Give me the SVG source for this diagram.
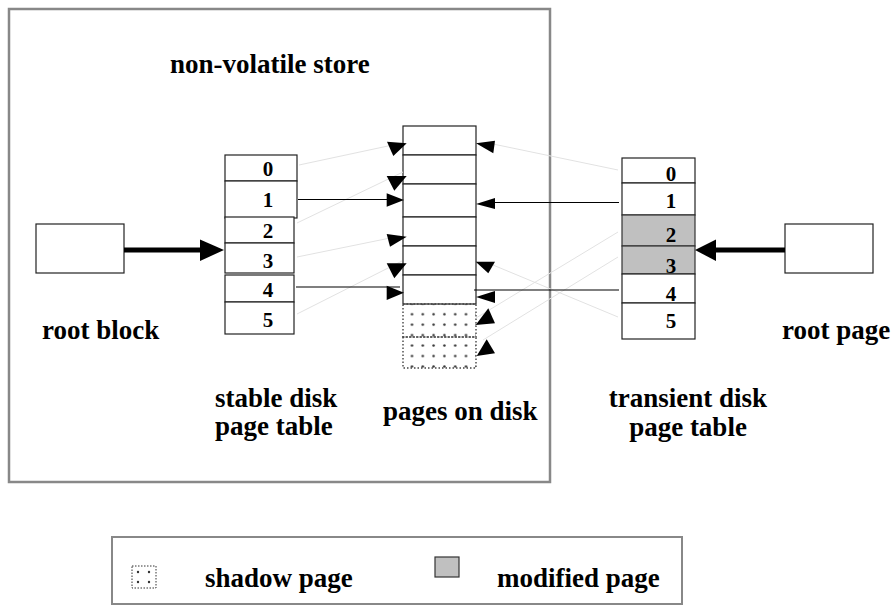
<svg xmlns="http://www.w3.org/2000/svg" width="895" height="608" viewBox="0 0 895 608">
<defs>
<pattern id="dots" patternUnits="userSpaceOnUse" x="406.6" y="309" width="10.8" height="10.45">
<circle cx="5.4" cy="5.2" r="1.25" fill="#333"/>
</pattern>
<style>
.lbl{font-family:"Liberation Serif","Times New Roman",serif;font-weight:bold;font-size:27px;fill:#000}
.num{font-family:"Liberation Serif","Times New Roman",serif;font-weight:bold;font-size:21px;fill:#000;text-anchor:middle}
.box{fill:#fff;stroke:#222;stroke-width:1.2}
.mod{fill:#c0c0c0;stroke:#333;stroke-width:1.2}
.shadow{fill:url(#dots);stroke:#444;stroke-width:1.4;stroke-dasharray:1.5 2}
.frame{fill:none;stroke:#888;stroke-width:2.5}
.faint{stroke:#e2e2e2;stroke-width:1;fill:none}
.thin{stroke:#000;stroke-width:1.2;fill:none}
.thick{stroke:#000;stroke-width:5;fill:none}
.head{fill:#000;stroke:none}
.dot{fill:#333}
</style>
</defs>
<rect width="895" height="608" fill="#fff"/>

<g id="store">
<rect class="frame" x="9" y="9" width="541" height="473"/>
<text class="lbl" x="170" y="73">non-volatile store</text>
</g>

<g id="root-block">
<rect class="box" x="36" y="224" width="88" height="49"/>
<text class="lbl" x="42" y="339">root block</text>
</g>

<g id="stable-table">
<rect class="box" x="225" y="155" width="72" height="26"/>
<rect class="box" x="225" y="181" width="72" height="37"/>
<rect class="box" x="225" y="217" width="69" height="26"/>
<rect class="box" x="225" y="243" width="69" height="30"/>
<rect class="box" x="225" y="275" width="69" height="27"/>
<rect class="box" x="225" y="302" width="69" height="32"/>
<text class="num" x="268" y="176">0</text>
<text class="num" x="268" y="207">1</text>
<text class="num" x="268" y="238">2</text>
<text class="num" x="268" y="268">3</text>
<text class="num" x="268" y="297">4</text>
<text class="num" x="268" y="327">5</text>
<text class="lbl" x="215" y="407">stable disk</text>
<text class="lbl" x="215" y="435">page table</text>
</g>

<g id="pages">
<rect class="box" x="403" y="126" width="73" height="29"/>
<rect class="box" x="403" y="155" width="73" height="29"/>
<rect class="box" x="403" y="184" width="73" height="33"/>
<rect class="box" x="403" y="217" width="73" height="29"/>
<rect class="box" x="403" y="246" width="73" height="29"/>
<rect class="box" x="403" y="275" width="73" height="29"/>
<rect class="shadow" x="403" y="304" width="73" height="33"/>
<rect class="shadow" x="403" y="337" width="73" height="31"/>
<text class="lbl" x="383" y="420">pages on disk</text>
</g>

<g id="transient-table">
<rect class="box" x="622" y="158" width="73" height="25"/>
<rect class="box" x="622" y="183" width="73" height="32"/>
<rect class="mod" x="622" y="215" width="73" height="31"/>
<rect class="mod" x="622" y="246" width="73" height="28"/>
<rect class="box" x="622" y="274" width="73" height="29"/>
<rect class="box" x="622" y="303" width="73" height="36"/>
<text class="num" x="671" y="181">0</text>
<text class="num" x="671" y="208">1</text>
<text class="num" x="671" y="242">2</text>
<text class="num" x="671" y="273">3</text>
<text class="num" x="671" y="301">4</text>
<text class="num" x="671" y="328">5</text>
<text class="lbl" x="688" y="407" text-anchor="middle">transient disk</text>
<text class="lbl" x="688" y="436" text-anchor="middle">page table</text>
</g>

<g id="root-page">
<rect class="box" x="785" y="224" width="88" height="49"/>
<text class="lbl" x="782" y="339">root page</text>
</g>

<g id="connectors">
<line class="faint" x1="299" y1="165" x2="402" y2="143"/>
<line class="faint" x1="297" y1="223" x2="403" y2="172"/>
<line class="faint" x1="297" y1="257" x2="400" y2="236"/>
<line class="faint" x1="297" y1="314" x2="402" y2="261"/>
<line class="faint" x1="618" y1="170" x2="493" y2="144"/>
<line class="faint" x1="618" y1="232" x2="476" y2="318"/>
<line class="faint" x1="618" y1="257" x2="483" y2="340"/>
<line class="faint" x1="618" y1="317" x2="493" y2="265"/>
<line class="thin" x1="298" y1="199.5" x2="390" y2="199.5"/>
<line class="thin" x1="296" y1="287" x2="400" y2="287"/>
<line class="thin" x1="619" y1="202.5" x2="490" y2="202.5"/>
<line class="thin" x1="619" y1="290" x2="474" y2="290"/>
<polygon class="head" points="387,141.7 406.7,143.3 393.3,156"/>
<polygon class="head" points="386.7,176 406.7,176 394.3,190.7"/>
<polygon class="head" points="386.7,193.3 404,200 386.7,206.7"/>
<polygon class="head" points="386.7,234 406.7,236.7 390,246.7"/>
<polygon class="head" points="386.7,263.3 406.7,263.3 394.3,278.3"/>
<polygon class="head" points="386.7,285.7 404,292.7 386.7,300"/>
<polygon class="head" points="476,143.3 495,140.7 493.3,153.3"/>
<polygon class="head" points="476,204 495,198 495,209"/>
<polygon class="head" points="475.7,261.7 495,261.7 488.3,273.3"/>
<polygon class="head" points="476,297 495,291 495,303"/>
<polygon class="head" points="475.7,325 488.3,308.3 495,323.3"/>
<polygon class="head" points="476.7,356 486.7,339.3 495,353.3"/>
<line class="thick" x1="124" y1="250" x2="203" y2="250"/>
<polygon class="head" points="200,239.5 224,250 200,261"/>
<line class="thick" x1="785" y1="250" x2="712" y2="250"/>
<polygon class="head" points="716,239.5 695,250 716,261"/>
</g>

<g id="legend">
<rect x="112" y="537" width="570" height="67" fill="none" stroke="#888" stroke-width="2"/>
<rect x="132" y="566" width="24" height="22" fill="#fff" stroke="#333" stroke-width="1" stroke-dasharray="1.5 1.5"/>
<circle class="dot" cx="138" cy="572" r="1.2"/>
<circle class="dot" cx="149" cy="572" r="1.2"/>
<circle class="dot" cx="138" cy="582" r="1.2"/>
<circle class="dot" cx="149" cy="582" r="1.2"/>
<text class="lbl" x="205" y="587">shadow page</text>
<rect class="mod" x="435" y="557" width="24" height="20"/>
<text class="lbl" x="497" y="587">modified page</text>
</g>
</svg>
